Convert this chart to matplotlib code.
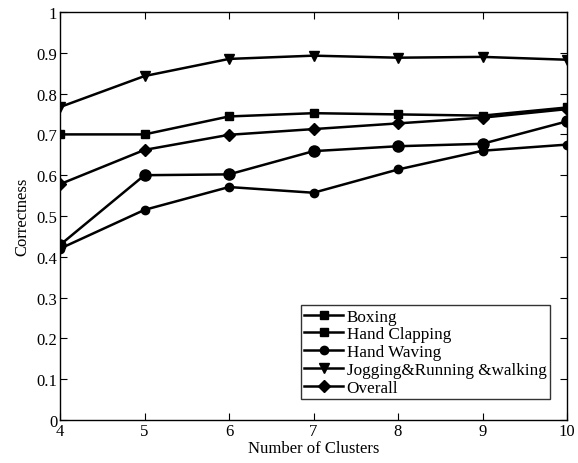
import matplotlib
matplotlib.use("Agg")
import matplotlib.pyplot as plt

plt.rcParams['font.family'] = ['Liberation Serif', 'DejaVu Serif']

clusters = [4, 5, 6, 7, 8, 9, 10]
boxing = [0.700, 0.700, 0.744, 0.752, 0.749, 0.746, 0.766]
hand_clapping = [0.429, 0.600, 0.602, 0.659, 0.671, 0.677, 0.732]
hand_waving = [0.420, 0.515, 0.571, 0.557, 0.614, 0.660, 0.675]
jogging = [0.767, 0.843, 0.885, 0.893, 0.888, 0.890, 0.883]
overall = [0.578, 0.662, 0.699, 0.713, 0.727, 0.741, 0.762]

labels = ["Boxing", "Hand Clapping", "Hand Waving",
          "Jogging&Running &walking", "Overall"]

W, H = 578, 464
fig = plt.figure(figsize=(W/100, H/100), dpi=100)
ax = fig.add_axes([60/W, 1 - 421/H, (567-60)/W, (421-13)/H])

lw = 1.8
ax.plot(clusters, boxing, '-s', color='black', lw=lw, ms=6, label=labels[0])
ax.plot(clusters, hand_clapping, '-o', color='black', lw=lw, ms=8, label=labels[1])
ax.plot(clusters, hand_waving, '-o', color='black', lw=lw, ms=6, label=labels[2])
ax.plot(clusters, jogging, '-v', color='black', lw=lw, ms=7, label=labels[3])
ax.plot(clusters, overall, '-D', color='black', lw=lw, ms=6, label=labels[4])

ax.set_xlim(4, 10)
ax.set_ylim(0, 1)
ax.set_xticks(clusters)
ax.set_yticks([i/10 for i in range(11)])
ax.set_yticklabels(['0', '0.1', '0.2', '0.3', '0.4', '0.5', '0.6', '0.7', '0.8', '0.9', '1'])
ax.tick_params(direction='in', top=True, right=True, labelsize=12, length=5, pad=2)
for s in ax.spines.values():
    s.set_linewidth(1.0)

ax.set_xlabel("Number of Clusters", fontsize=12, labelpad=1)
ax.set_ylabel("Correctness", fontsize=12, labelpad=4)

leg = ax.legend(loc='lower right', bbox_to_anchor=(550/W, 1 - 400/H),
                bbox_transform=fig.transFigure, borderaxespad=0,
                fontsize=12.3, frameon=True, fancybox=False,
                edgecolor='black', handlelength=2.3,
                handletextpad=0.2, labelspacing=0.1, borderpad=0.2)
leg.get_frame().set_linewidth(1.0)
leg.legend_handles[1].set_marker('s')
leg.legend_handles[1].set_markersize(6)

fig.savefig("out.png", dpi=100)
